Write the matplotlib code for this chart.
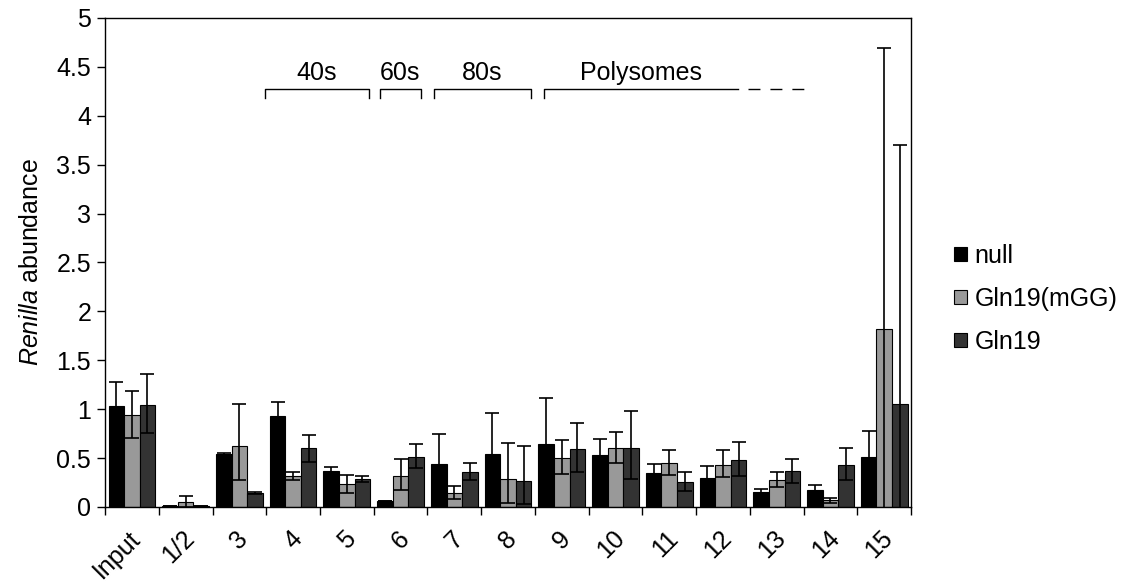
import numpy as np
import matplotlib
matplotlib.use("Agg")
import matplotlib.pyplot as plt
import matplotlib.transforms as mtransforms

plt.rcParams['font.family'] = ['Liberation Sans', 'DejaVu Sans']
plt.rcParams['mathtext.fontset'] = 'custom'
plt.rcParams['mathtext.rm'] = 'Liberation Sans'
plt.rcParams['mathtext.it'] = 'Liberation Sans:italic'

# 数据
categories = ['Input', '1/2', '3', '4', '5', '6', '7', '8', '9', '10',
              '11', '12', '13', '14', '15']
series_names = ['null', 'Gln19(mGG)', 'Gln19']

null_val = [1.036, 0.005, 0.54, 0.927, 0.368, 0.065, 0.443, 0.54, 0.64, 0.53,
            0.344, 0.30, 0.157, 0.17, 0.51]
null_err = [0.24, 0.0, 0.015, 0.145, 0.04, 0.0, 0.30, 0.42, 0.47, 0.17,
            0.10, 0.12, 0.03, 0.05, 0.27]

mgg_val = [0.94, 0.055, 0.62, 0.317, 0.23, 0.32, 0.147, 0.29, 0.50, 0.603,
           0.45, 0.43, 0.276, 0.07, 1.82]
mgg_err_hi = [0.25, 0.06, 0.43, 0.04, 0.10, 0.17, 0.07, 0.36, 0.18, 0.16,
              0.13, 0.15, 0.085, 0.025, 2.87]
mgg_err_lo = [0.235, 0.06, 0.34, 0.04, 0.09, 0.15, 0.07, 0.25, 0.16, 0.15,
              0.12, 0.12, 0.075, 0.025, 2.87]

gln_val = [1.04, 0.005, 0.14, 0.60, 0.29, 0.514, 0.36, 0.266, 0.593, 0.60,
           0.26, 0.477, 0.37, 0.43, 1.05]
gln_err_hi = [0.32, 0.0, 0.01, 0.14, 0.03, 0.126, 0.09, 0.354, 0.267, 0.385,
              0.10, 0.183, 0.12, 0.17, 2.65]
gln_err_lo = [0.28, 0.0, 0.01, 0.14, 0.03, 0.114, 0.08, 0.236, 0.233, 0.31,
              0.10, 0.157, 0.12, 0.15, 2.65]

# 分区括号
bracket_labels = ['40s', '60s', '80s', 'Polysomes']
bracket_start = [2.48, 4.61, 5.62, 7.67]
bracket_end = [4.41, 5.38, 7.43, 11.28]
dash_end = 12.51

colors = ['#000000', '#999999', '#333333']

fig = plt.figure(figsize=(11.27, 5.81), dpi=100)
ax = fig.add_axes([0.0932, 0.1274, 0.7152, 0.8417])

x = np.arange(len(categories))
w = 0.29
vals = [null_val, mgg_val, gln_val]
errs = [[null_err, null_err], [mgg_err_lo, mgg_err_hi], [gln_err_lo, gln_err_hi]]
for i in range(3):
    xi = x + (i - 1) * w
    ax.bar(xi, vals[i], w, color=colors[i], edgecolor='black', linewidth=0.8,
           label=series_names[i], zorder=2)
    ax.errorbar(xi, vals[i], yerr=errs[i], fmt='none', ecolor='black',
                elinewidth=1.2, capsize=4.7, capthick=1.2, zorder=3)

ax.set_xlim(-0.5, len(categories) - 0.5)
ax.set_ylim(0, 5)
ax.set_yticks(np.arange(0, 5.01, 0.5))
ax.set_yticklabels(['0', '0.5', '1', '1.5', '2', '2.5', '3', '3.5', '4', '4.5', '5'])
ax.tick_params(axis='y', direction='out', length=6, width=1, labelsize=18, pad=4)

ax.set_xticks(x)
ax.set_xticklabels(categories, rotation=45, ha='right', va='center',
                   rotation_mode='anchor', fontsize=18)
ax.set_xticks(np.arange(-0.5, len(categories), 1), minor=True)
ax.tick_params(axis='x', which='major', length=0, pad=20)
ax.tick_params(axis='x', which='minor', direction='out', length=6, width=1)
offset = mtransforms.ScaledTranslation(5 / 100, 0, fig.dpi_scale_trans)
for lab in ax.get_xticklabels():
    lab.set_transform(lab.get_transform() + offset)

for s in ax.spines.values():
    s.set_linewidth(1)

ax.set_ylabel(r'$\it{Renilla}$ abundance', fontsize=18, labelpad=10)

# 括号和标签
for lab, a, b in zip(bracket_labels, bracket_start, bracket_end):
    if lab == 'Polysomes':
        ax.plot([a, a, b], [4.185, 4.27, 4.27], color='black', lw=1)
    else:
        ax.plot([a, a, b, b], [4.185, 4.27, 4.27, 4.185], color='black', lw=1)
    ax.text((a + b) / 2, 4.366, lab, ha='center', va='baseline', fontsize=18)
ax.plot([bracket_end[-1] + 0.19, dash_end], [4.27, 4.27], color='black', lw=1,
        linestyle=(0, (8.6, 7.2)))

leg = fig.legend(loc='upper left', bbox_to_anchor=(0.838, 0.597), frameon=False,
                 fontsize=18, handlelength=0.5, handleheight=0.5,
                 handletextpad=0.3, labelspacing=0.75, borderaxespad=0)

fig.savefig('out.png', dpi=100)
